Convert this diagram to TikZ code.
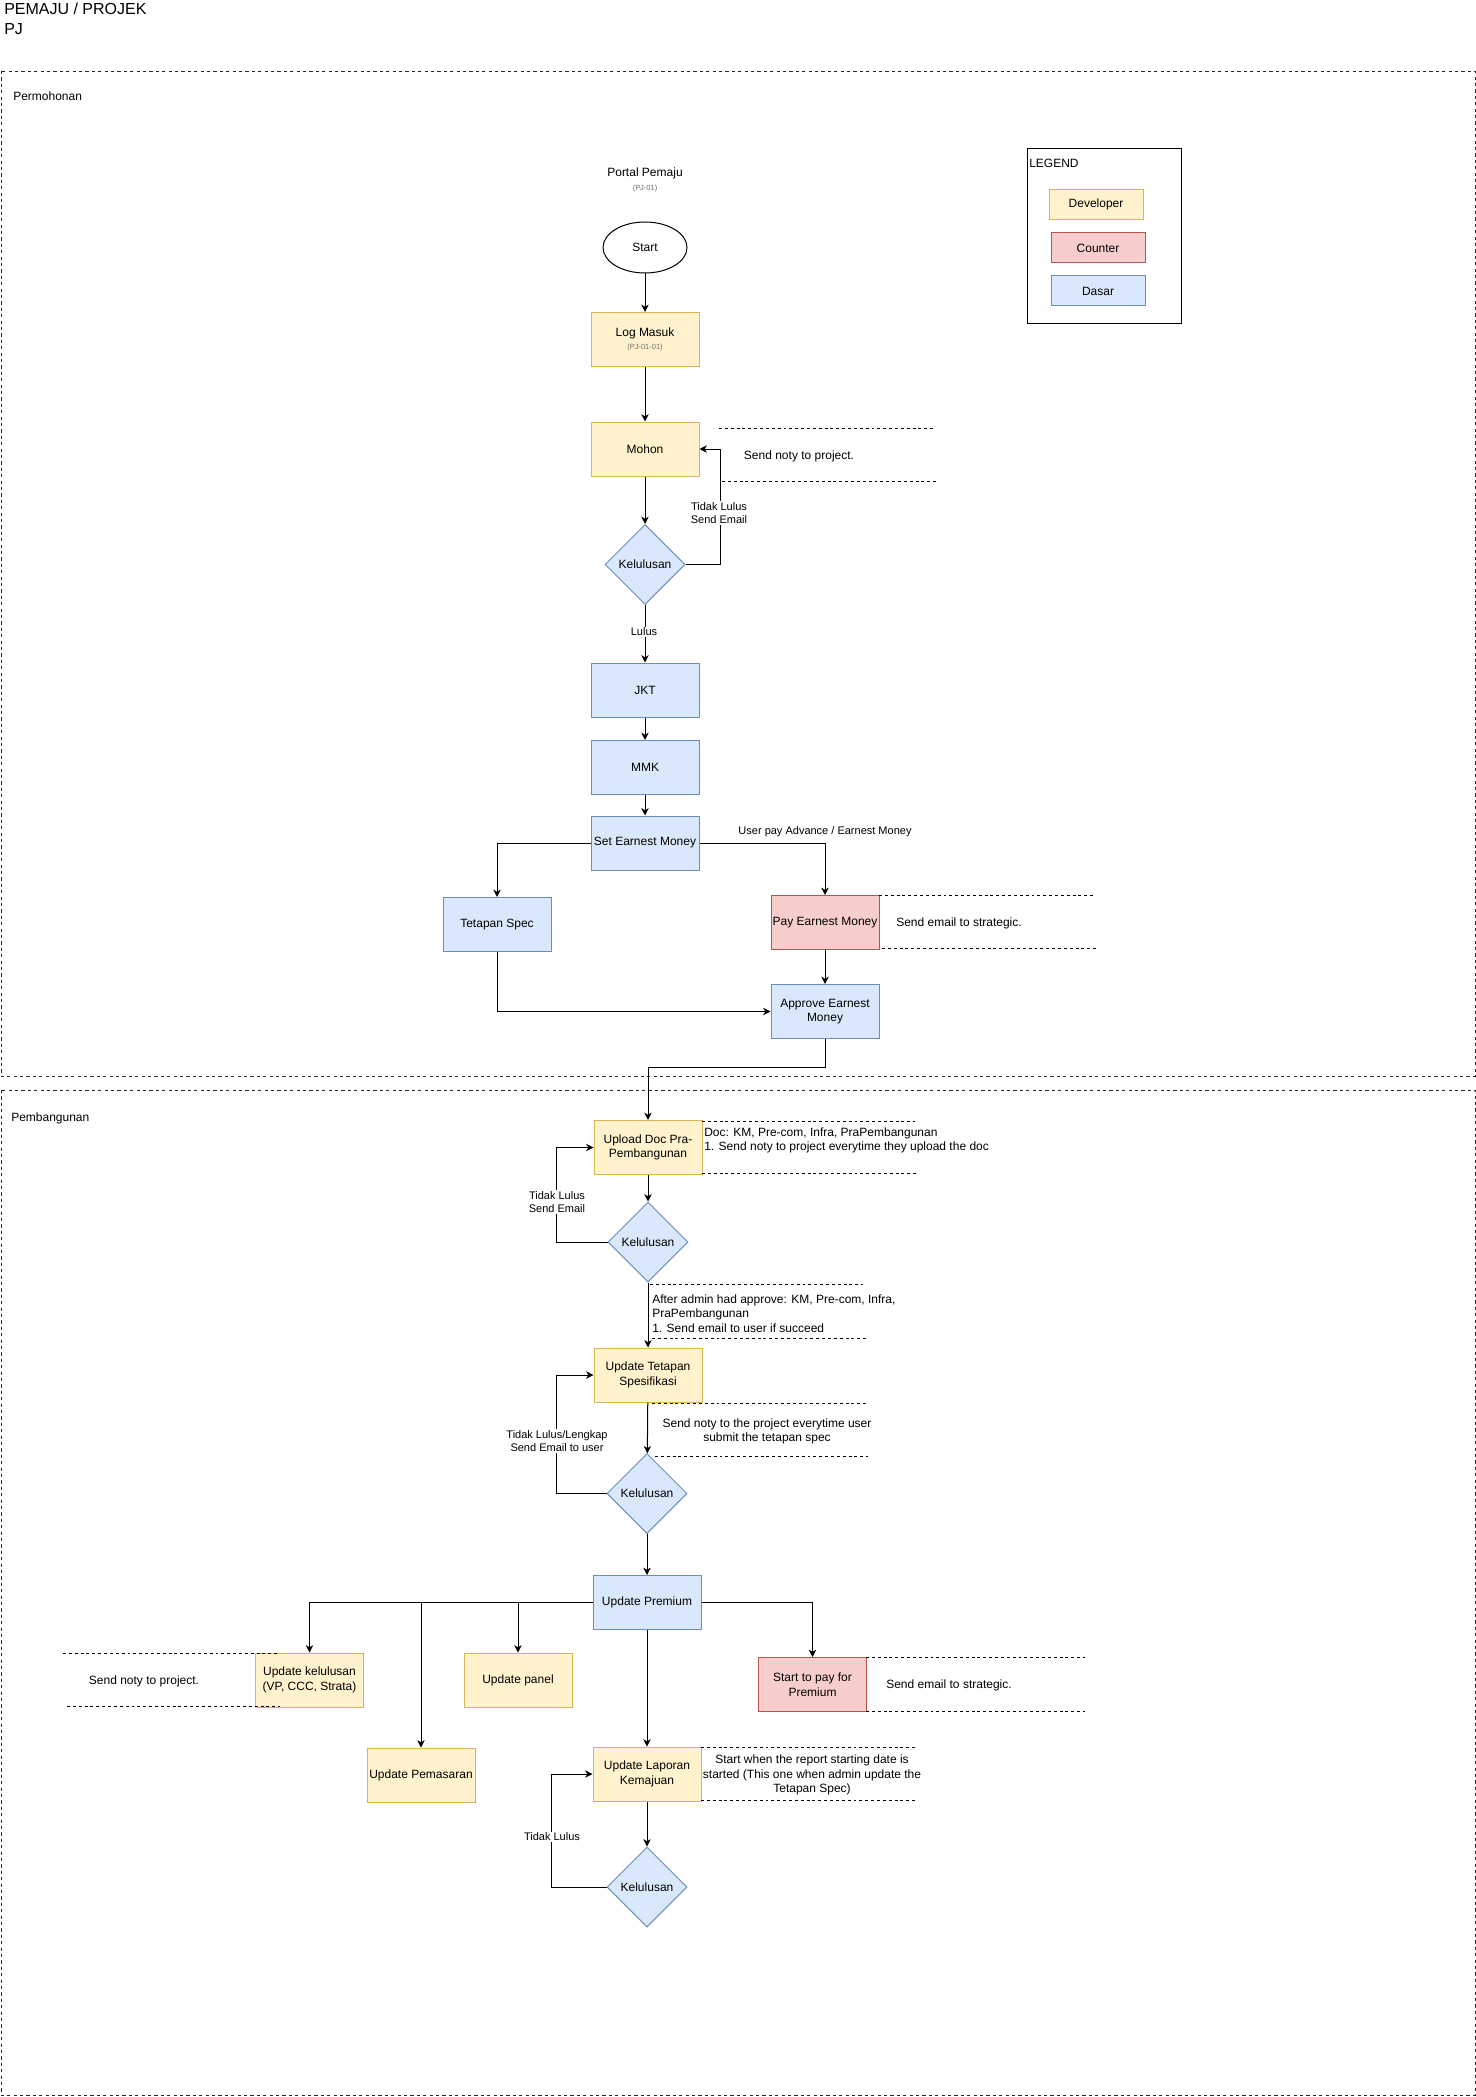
\documentclass[tikz,border=0pt]{standalone}
\usepackage{fontspec}
\setmainfont{Liberation Sans}
\usetikzlibrary{arrows.meta,shapes.geometric,calc}
\definecolor{yfill}{HTML}{FFF2CC}
\definecolor{ystroke}{HTML}{D6B656}
\definecolor{rfill}{HTML}{F8CECC}
\definecolor{rstroke}{HTML}{B85450}
\definecolor{bfill}{HTML}{DAE8FC}
\definecolor{bstroke}{HTML}{6C8EBF}
\definecolor{subgray}{HTML}{6D6D6D}
\newcommand\myfnt{\fontsize{9}{10.9}\selectfont}
\newcommand\mylblfnt{\fontsize{8.25}{10.2}\selectfont}
\newcommand\mysmallfnt{\fontsize{5.6}{7}\selectfont}
\tikzset{
  box/.style={draw, line width=0.75pt, minimum width=81pt, minimum height=40.5pt, inner sep=0.5pt, align=center, font=\myfnt},
  dev/.style={box, fill=yfill, draw=ystroke},
  cnt/.style={box, fill=rfill, draw=rstroke},
  bas/.style={box, fill=bfill, draw=bstroke},
  legbox/.style={draw, line width=0.75pt, minimum width=70.5pt, minimum height=22.5pt, inner sep=0pt, font=\myfnt},
  dec/.style={diamond, aspect=1, minimum width=60pt, minimum height=60pt, inner sep=0pt, fill=bfill, draw=bstroke, line width=0.75pt, font=\myfnt},
  arr/.style={draw=black, line width=0.75pt, -{Stealth[length=5.5pt,width=5.5pt,inset=1.6pt]}},
  noteline/.style={draw=black, line width=0.6pt, dash pattern=on 2.2pt off 2.2pt},
  sec/.style={draw=black!85, line width=0.7pt, dash pattern=on 2.4pt off 2.4pt},
  lbl/.style={font=\mylblfnt, fill=white, inner sep=1pt, align=center},
  plain/.style={font=\myfnt, inner sep=0pt, align=center}
}
\begin{document}
\begin{tikzpicture}[x=0.75pt,y=-0.75pt]
\useasboundingbox (0,0) rectangle (1476,2097);
\fill[white] (0,0) rectangle (1476,2097);

% title
\node[anchor=west, inner sep=0pt, align=left, font=\fontsize{12}{15}\selectfont] (title) at (4,19) {PEMAJU / PROJEK\\PJ};

% sections
\draw[sec] (1,71) rectangle (1475,1076);
\draw[sec] (1,1090) rectangle (1475,2095);
\node[plain, anchor=west] (secA) at (13,96) {Permohonan};
\node[plain, anchor=west] (secB) at (11,1118) {Pembangunan};

% legend
\draw[line width=0.75pt] (1027,149) rectangle (1181,324);
\node[plain, anchor=west] (legend) at (1029,163) {LEGEND};
\node[legbox, fill=yfill, draw=ystroke] (lgdev) at (1096,204.5) {Developer};
\node[legbox, fill=rfill, draw=rstroke] (lgcnt) at (1098,248) {Counter};
\node[legbox, fill=bfill, draw=bstroke] (lgbas) at (1098,291) {Dasar};

% Permohonan
\node[plain] (portal) at (645,173) {Portal Pemaju};
\node[plain, font=\mysmallfnt, text=subgray] (pj01) at (645,189) {(PJ-01)};
\node[draw, ellipse, line width=0.75pt, minimum width=63pt, minimum height=38.25pt, inner sep=0pt, font=\myfnt] (start) at (645,247.5) {Start};
\node[dev] (login) at (645,339.5) {Log Masuk\\[-1pt]{\mysmallfnt\color{subgray}(PJ-01-01)}};
\node[dev] (mohon) at (645,449) {Mohon};
\node[dec] (d1) at (645,564.5) {Kelulusan};
\node[bas] (jkt) at (645,690) {JKT};
\node[bas] (mmk) at (645,767.5) {MMK};
\node[bas] (sem) at (645,843) {Set Earnest Money};
\node[bas] (tspec) at (497,924.5) {Tetapan Spec};
\node[cnt] (pay) at (825,922.5) {Pay Earnest Money};
\node[bas] (appr) at (825,1011.5) {Approve Earnest\\Money};

% Pembangunan
\node[dev] (upload) at (648,1147.5) {Upload Doc Pra-\\Pembangunan};
\node[dec] (d2) at (648,1242) {Kelulusan};
\node[dev] (uts) at (648,1375) {Update Tetapan\\Spesifikasi};
\node[dec] (d3) at (647,1493.5) {Kelulusan};
\node[bas] (prem) at (647,1602.5) {Update Premium};
\node[dev] (ukel) at (309.5,1680) {Update kelulusan\\(VP, CCC, Strata)};
\node[dev] (upanel) at (518,1680) {Update panel};
\node[dev] (upem) at (421,1775) {Update Pemasaran};
\node[cnt] (spay) at (812.5,1684.5) {Start to pay for\\Premium};
\node[dev] (ulap) at (647,1774) {Update Laporan\\Kemajuan};
\node[dec] (d4) at (647,1887) {Kelulusan};

% connectors
\draw[arr] (start) -- (login);
\draw[arr] (login) -- (mohon);
\draw[arr] (mohon) -- (d1);
\draw[arr] (d1.east) -- ++(35,0) |- (mohon.east);
\draw[arr] (d1) -- (jkt);
\draw[arr] (jkt) -- (mmk);
\draw[arr] (mmk) -- (sem);
\draw[arr] (sem.west) -| (tspec.north);
\draw[arr] (sem.east) -| (pay.north);
\draw[arr] (pay) -- (appr);
\draw[arr] (tspec.south) |- (appr.west);
\draw[arr] (appr.south) -- ++(0,28) -| (upload.north);
\draw[arr] (upload) -- (d2);
\draw[arr] (d2.west) -- ++(-51,0) |- (upload.west);
\draw[arr] (d2) -- (uts);
\draw[arr] (uts) -- (d3);
\draw[arr] (d3.west) -- ++(-50,0) |- (uts.west);
\draw[arr] (d3) -- (prem);
\draw[arr] (prem.west) -| (ukel.north);
\draw[arr] (prem.west) -| (upem.north);
\draw[arr] (prem.west) -| (upanel.north);
\draw[arr] (prem.east) -| (spay.north);
\draw[arr] (prem) -- (ulap);
\draw[arr] (ulap) -- (d4);
\draw[arr] (d4.west) -- ++(-55,0) |- (ulap.west);

% connector labels
\node[lbl] (l1) at (719,513) {Tidak Lulus\\Send Email};
\node[lbl] (l2) at (644,632) {Lulus};
\node[lbl, fill=none] (l3) at (825,832) {User pay Advance / Earnest Money};
\node[lbl] (l4) at (557,1202) {Tidak Lulus\\Send Email};
\node[lbl] (l5) at (557,1441) {Tidak Lulus/Lengkap\\Send Email to user};
\node[lbl] (l6) at (552,1837) {Tidak Lulus};

% notes
\draw[noteline] (719,428) -- (933,428);
\draw[noteline] (722,481) -- (936,481);
\node[plain] (n1) at (799,456) {Send noty to project.};

\draw[noteline] (879,895) -- (1093,895);
\draw[noteline] (882,948) -- (1096,948);
\node[plain] (n2) at (959,923) {Send email to strategic.};

\draw[noteline] (702,1121) -- (915,1121);
\draw[noteline] (702,1173) -- (918,1173);
\node[plain, anchor=west, align=left] (n3) at (704,1140.5) {Doc: KM, Pre-com, Infra, PraPembangunan\\1. Send noty to project everytime they upload the doc};

\draw[noteline] (650,1284) -- (863,1284);
\draw[noteline] (652,1338) -- (866,1338);
\node[plain, anchor=west, align=left] (n4) at (652,1313.5) {After admin had approve: KM, Pre-com, Infra,\\PraPembangunan\\1. Send email to user if succeed};

\draw[noteline] (652,1403) -- (866,1403);
\draw[noteline] (655,1456) -- (868,1456);
\node[plain] (n5) at (767,1431.5) {Send noty to the project everytime user\\submit the tetapan spec};

\draw[noteline] (63,1653) -- (278,1653);
\draw[noteline] (67,1706) -- (280,1706);
\node[plain] (n6) at (144,1681) {Send noty to project.};

\draw[noteline] (866,1657) -- (1085,1657);
\draw[noteline] (866,1711) -- (1085,1711);
\node[plain] (n7) at (949,1685) {Send email to strategic.};

\draw[noteline] (701,1747) -- (915,1747);
\draw[noteline] (701,1800) -- (916,1800);
\node[plain] (n8) at (812,1775) {Start when the report starting date is\\started (This one when admin update the\\Tetapan Spec)};
\end{tikzpicture}
\end{document}
